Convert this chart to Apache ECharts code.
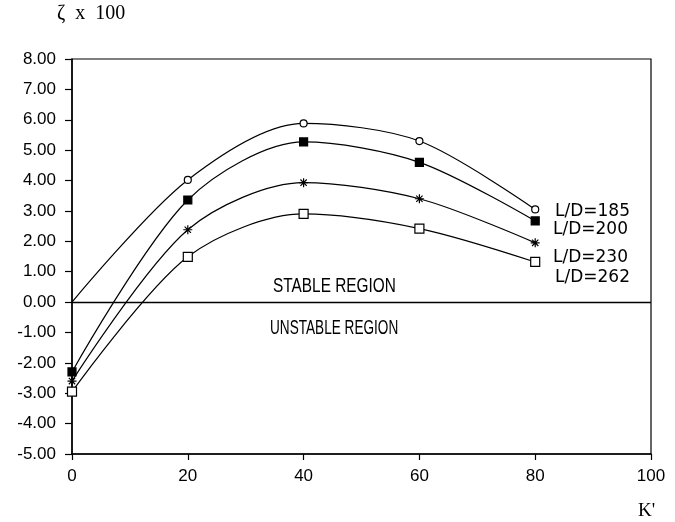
<!DOCTYPE html>
<html><head><meta charset="utf-8">
<script src="https://cdn.jsdelivr.net/npm/echarts@6.0.0/dist/echarts.min.js"></script>
<style>html,body{margin:0;padding:0;background:#fff}#c{width:675px;height:522px}</style>
</head><body><div id="c"></div>
<script>
const kValues = [0, 20, 40, 60, 80];
const seriesNames = ['L/D=185', 'L/D=200', 'L/D=230', 'L/D=262'];
const ld185 = [0.00, 4.02, 5.88, 5.30, 3.05];
const ld200 = [-2.30, 3.36, 5.27, 4.60, 2.67];
const ld230 = [-2.60, 2.38, 3.93, 3.40, 1.95];
const ld262 = [-2.95, 1.49, 2.90, 2.42, 1.32];
const yLabel = 'ζ  x  100';
const xLabel = "K'";
const regionLabels = ['STABLE REGION', 'UNSTABLE REGION'];

const chart = echarts.init(document.getElementById('c'), null, {renderer: 'canvas'});
const ASTERISK = 'path://M5,0L5,10M0,5L10,5M1.5,1.5L8.5,8.5M8.5,1.5L1.5,8.5';

function mk(name, vals, symbol, size, fill, skipFirst, extra) {
  return Object.assign({
    name: name, type: 'line', smooth: 0.3,
    data: kValues.map((k, i) => {
      const d = {value: [k, vals[i]]};
      if (skipFirst && i === 0) d.symbol = 'none';
      return d;
    }),
    symbol: symbol, symbolSize: size, showAllSymbol: true,
    lineStyle: {color: '#000', width: 1.2},
    itemStyle: {color: fill, borderColor: '#000', borderWidth: 1.2},
    emphasis: {disabled: true},
    animation: false, z: 3
  }, extra || {});
}

const sans = "'Liberation Sans', Arial, sans-serif";
const serif = "'Liberation Serif', 'DejaVu Serif', serif";
const legFont = '17px "DejaVu Sans", sans-serif';

chart.setOption({
  animation: false,
  backgroundColor: '#fff',
  grid: {left: 72, right: 24, top: 59, bottom: 68, show: true, borderColor: '#000', borderWidth: 1.2},
  xAxis: {
    type: 'value', min: 0, max: 100, interval: 20,
    axisLine: {show: true, onZero: false, lineStyle: {color: '#000', width: 1.5}},
    axisTick: {show: true, length: 6, lineStyle: {color: '#000', width: 1.2}},
    axisLabel: {color: '#000', fontSize: 17, fontFamily: sans, margin: 14},
    splitLine: {show: false}
  },
  yAxis: {
    type: 'value', min: -5, max: 8, interval: 1,
    axisLine: {show: true, onZero: false, lineStyle: {color: '#000', width: 1.5}},
    axisTick: {show: true, length: 7, lineStyle: {color: '#000', width: 1.2}},
    axisLabel: {color: '#000', fontSize: 17, fontFamily: sans, margin: 16, formatter: v => v.toFixed(2)},
    splitLine: {show: false}
  },
  series: [
    mk(seriesNames[0], ld185, 'circle', 7, '#fff', true, {
      markLine: {silent: true, symbol: ['none', 'none'], label: {show: false},
        lineStyle: {color: '#000', type: 'solid', width: 1.3}, data: [{yAxis: 0}], animation: false}
    }),
    mk(seriesNames[1], ld200, 'rect', 8, '#000', false),
    mk(seriesNames[2], ld230, ASTERISK, 9, 'none', false),
    mk(seriesNames[3], ld262, 'rect', 9, '#fff', false)
  ],
  graphic: [
    {type: 'text', left: 57, top: 4, style: {text: yLabel, font: '20px ' + serif, fill: '#000'}},
    {type: 'text', left: 638, top: 502, style: {text: xLabel, font: '19px ' + serif, fill: '#000'}},
    {type: 'text', x: 273, y: 286, scaleX: 0.77, style: {text: regionLabels[0], font: '20px ' + sans, fill: '#000', verticalAlign: 'middle', align: 'left'}},
    {type: 'text', x: 270, y: 328, scaleX: 0.68, style: {text: regionLabels[1], font: '20px ' + sans, fill: '#000', verticalAlign: 'middle', align: 'left'}},
    {type: 'text', x: 555, y: 212, style: {text: seriesNames[0], font: legFont, fill: '#000', verticalAlign: 'middle'}},
    {type: 'text', x: 553, y: 230, style: {text: seriesNames[1], font: legFont, fill: '#000', verticalAlign: 'middle'}},
    {type: 'text', x: 553, y: 258, style: {text: seriesNames[2], font: legFont, fill: '#000', verticalAlign: 'middle'}},
    {type: 'text', x: 555, y: 278, style: {text: seriesNames[3], font: legFont, fill: '#000', verticalAlign: 'middle'}}
  ]
});
</script></body></html>
